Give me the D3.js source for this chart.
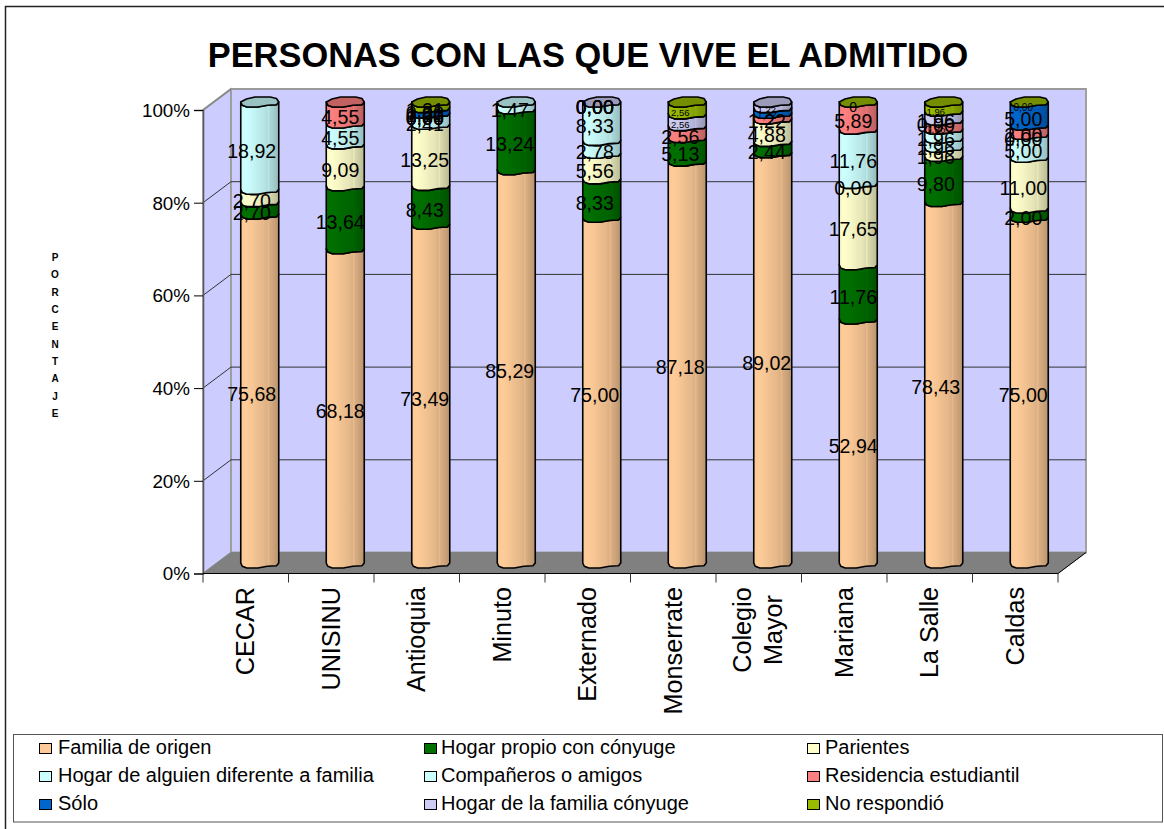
<!DOCTYPE html>
<html><head><meta charset="utf-8">
<script src="https://cdn.jsdelivr.net/npm/d3@7"></script>
<style>html,body{margin:0;padding:0;background:#fff;overflow:hidden}svg{display:block}text{font-family:"Liberation Sans",Arial,sans-serif;fill:#000}</style>
</head><body><div id="c"></div>
<script>
const categories=["CECAR","UNISINU","Antioquia","Minuto","Externado","Monserrate","Colegio Mayor","Mariana","La Salle","Caldas"];
const seriesNames=["Familia de origen","Hogar propio con cónyuge","Parientes","Hogar de alguien diferente a familia","Compañeros o amigos","Residencia estudiantil","Sólo","Hogar de la familia cónyuge","No respondió"];
const seriesColors=["#FFCC99","#007000","#FFFFCC","#CCFFFF","#CCFFFF","#FF8080","#0066CC","#CCCCF4","#99BB00"];
const familia=[75.68,68.18,73.49,85.29,75.00,87.18,89.02,52.94,78.43,75.00];
const propio=[2.70,13.64,8.43,13.24,8.33,5.13,2.44,11.76,9.80,2.00];
const parientes=[2.70,9.09,13.25,null,5.56,null,4.88,17.65,1.96,11.00];
const alguien=[18.92,4.55,2.41,null,2.78,null,null,0,1.96,5.00];
const companeros=[null,null,0,1.47,8.33,null,null,11.76,1.96,0];
const residencia=[null,4.55,0,null,0,2.56,1.22,5.89,1.96,2.00];
const solo=[null,null,1.21,null,0,null,1.22,null,0,5.00];
const conyuge=[null,null,0,null,0,2.56,1.22,null,1.96,null];
const noResp=[null,null,1.21,null,null,2.56,null,0,1.96,0];
const allSeries=[familia,propio,parientes,alguien,companeros,residencia,solo,conyuge,noResp];
const yTicks=[0,20,40,60,80,100];
const labelOverride={"Mariana|8":"0"};
const smallLabels={"Monserrate|7":9.5,"Monserrate|8":9.5,"La Salle|8":9.5,"Caldas|8":10,"Colegio Mayor|7":9.5,"Colegio Mayor|6":10,"La Salle|5":10,"Mariana|8":14};
const labelShift=[-8,-5,-6,-6.5,-7,-7,-6,-5,-8,-6];

const W=1164,H=829;
const svg=d3.select("#c").append("svg").attr("width",W).attr("height",H);
const fmt=v=>v.toFixed(2).replace(".",",");
const frontX=[203,1058],frontY=[573.5,110],dx=28,dy=-21;
const x=d3.scaleBand().domain(categories).range(frontX);
const yFront=d3.scaleLinear().domain([0,100]).range(frontY);
const yCyl=d3.scaleLinear().domain([0,100]).range([563,102]);
const cx=c=>x(c)+x.bandwidth()/2+14;
const rx=19,ry=5;

// frame
svg.append("rect").attr("x",5.5).attr("y",6.5).attr("width",1180).attr("height",840).attr("fill","#fff").attr("stroke","#222").attr("stroke-width",1.5);
svg.append("text").attr("x",588).attr("y",66.5).attr("text-anchor","middle").attr("font-weight","bold").attr("font-size",34.4).text("PERSONAS CON LAS QUE VIVE EL ADMITIDO");

// walls
const wall="#CCCCFF",edge="#9A9A9A";
const poly=p=>"M"+p.map(q=>q.join(",")).join("L")+"Z";
svg.append("path").attr("d",poly([[frontX[0],frontY[0]],[frontX[0],frontY[1]],[frontX[0]+dx,frontY[1]+dy],[frontX[0]+dx,frontY[0]+dy]])).attr("fill",wall).attr("stroke",edge).attr("stroke-width",1.5);
svg.append("path").attr("d",poly([[frontX[0]+dx,frontY[0]+dy],[frontX[0]+dx,frontY[1]+dy],[frontX[1]+dx,frontY[1]+dy],[frontX[1]+dx,frontY[0]+dy]])).attr("fill",wall).attr("stroke",edge).attr("stroke-width",1.8);
svg.append("path").attr("d",poly([[frontX[0],frontY[0]],[frontX[0]+dx,frontY[0]+dy],[frontX[1]+dx,frontY[0]+dy],[frontX[1],frontY[0]]])).attr("fill","#808080").attr("stroke","#808080");
// grid
yTicks.filter(t=>t>0&&t<100).forEach(t=>{
  const y=yFront(t);
  svg.append("path").attr("d",`M${frontX[0]},${y}L${frontX[0]+dx},${y+dy}L${frontX[1]+dx},${y+dy}`).attr("fill","none").attr("stroke","#333").attr("stroke-width",1);
});
svg.append("path").attr("d",`M${frontX[0]},${frontY[1]}L${frontX[0]+dx},${frontY[1]+dy}`).attr("stroke","#888").attr("stroke-width",1.8);
// axes
const axisL=svg.append("g").attr("transform",`translate(${frontX[0]},0)`).call(d3.axisLeft(yFront).tickValues(yTicks).tickSize(9).tickPadding(4).tickFormat(d=>d+"%"));
axisL.selectAll("text").attr("font-size",18.8).attr("dy",".34em");
axisL.select(".domain").attr("stroke","#555").attr("stroke-width",1.5);
axisL.selectAll("line").attr("stroke","#000");
svg.append("path").attr("d",`M${frontX[0]},${frontY[0]}L${frontX[1]},${frontY[0]}`).attr("stroke","#000").attr("stroke-width",1.2);
svg.append("path").attr("d",`M${frontX[1]},${frontY[0]}L${frontX[1]+dx},${frontY[0]+dy}`).attr("stroke","#000").attr("stroke-width",1);
d3.range(categories.length+1).forEach(i=>{
  const tx=frontX[0]+i*x.bandwidth();
  svg.append("line").attr("x1",tx).attr("x2",tx).attr("y1",frontY[0]).attr("y2",frontY[0]+9).attr("stroke","#333");
});
// category labels
categories.forEach(c=>{
  const lx=x(c)+x.bandwidth()/2;
  if(c==="Colegio Mayor"){
    const g=svg.append("text").attr("transform",`translate(${lx},630) rotate(-90)`).attr("text-anchor","middle").attr("font-size",25.2);
    ["Colegio","Mayor"].forEach((p,i)=>g.append("tspan").attr("x",0).attr("y",i===0?-8:23).text(p));
  } else {
    svg.append("text").attr("transform",`translate(${lx},587) rotate(-90)`).attr("text-anchor","end").attr("y",8.5).attr("font-size",25.2).text(c);
  }
});
// PORCENTAJE
"PORCENTAJE".split("").forEach((ch,i)=>svg.append("text").attr("x",55).attr("y",261+i*17.35).attr("text-anchor","middle").attr("font-size",10).attr("font-weight","bold").text(ch));

// gradients
const defs=svg.append("defs");
const shade=(col,k)=>{const c=d3.rgb(col);return d3.rgb(c.r*k,c.g*k,c.b*k).formatHex();};
const bands=[[0,.98],[.12,1],[.3,.97],[.45,.93],[.6,.9],[.7,.86],[.72,.92],[.76,.85],[.9,.78],[1,.72]];
seriesColors.forEach((col,i)=>{
  const g=defs.append("linearGradient").attr("id","g"+i);
  bands.forEach(b=>g.append("stop").attr("offset",b[0]).attr("stop-color",shade(col,b[1])));
});
// cylinder outlines (low-poly look)
const frontArc=[[-1,0],[-.92,.65],[-.68,1],[-.1,1],[.4,.65],[.88,.55],[1,0]];
const backArc=[[1,0],[.88,-.7],[.55,-1],[-.25,-1],[-.7,-.6],[-1,0]];
const line=d3.line();
const arcPts=(arr,c,yc)=>arr.map(p=>[c+p[0]*rx,yc+p[1]*ry]);
categories.forEach((cat,ci)=>{
  const c=cx(cat);let acc=0,last=-1;
  const g=svg.append("g");
  allSeries.forEach((s,si)=>{
    const v=s[ci];if(v===null)return;
    last=si;
    if(v>0){
      const y0=yCyl(acc),y1=yCyl(acc+v);
      const top=arcPts(frontArc,c,y1).reverse();
      const bot=arcPts(frontArc,c,y0);
      g.append("path").attr("d",line(bot.concat(top))+"Z").attr("fill",`url(#g${si})`).attr("stroke","#000").attr("stroke-width",1.6).attr("stroke-linejoin","round");
      acc+=v;
    }
  });
  const yt=yCyl(acc);
  g.append("path").attr("d",line(arcPts(frontArc,c,yt).concat(arcPts(backArc,c,yt)))+"Z").attr("fill",shade(seriesColors[last],.76)).attr("stroke","#000").attr("stroke-width",1.6).attr("stroke-linejoin","round");
});
// value labels
categories.forEach((cat,ci)=>{
  const c=cx(cat);let acc=0;
  allSeries.forEach((s,si)=>{
    const v=s[ci];if(v===null)return;
    const key=cat+"|"+si;
    const fs=smallLabels[key]||19.6;
    const ym=yCyl(acc+v/2)+5;
    svg.append("text").attr("x",c+labelShift[ci]).attr("y",ym).attr("dy",".36em").attr("text-anchor","middle").attr("font-size",fs).attr("fill","#111").text(labelOverride[key]||fmt(v));
    acc+=v;
  });
});
// legend
svg.append("rect").attr("x",13.5).attr("y",734.5).attr("width",1149).attr("height",87.5).attr("fill","#fff").attr("stroke","#555").attr("stroke-width",1);
const legSwatch=[39.5,424.5,807.5],legText=[58,441,825],legRows=[748,776,804];
seriesNames.forEach((n,i)=>{
  const ly=legRows[Math.floor(i/3)];
  svg.append("rect").attr("x",legSwatch[i%3]).attr("y",ly-4.5).attr("width",12).attr("height",10).attr("fill",seriesColors[i]).attr("stroke","#000").attr("stroke-width",1);
  svg.append("text").attr("x",legText[i%3]).attr("y",ly).attr("dy",".3em").attr("font-size",20).text(n);
});
</script></body></html>
